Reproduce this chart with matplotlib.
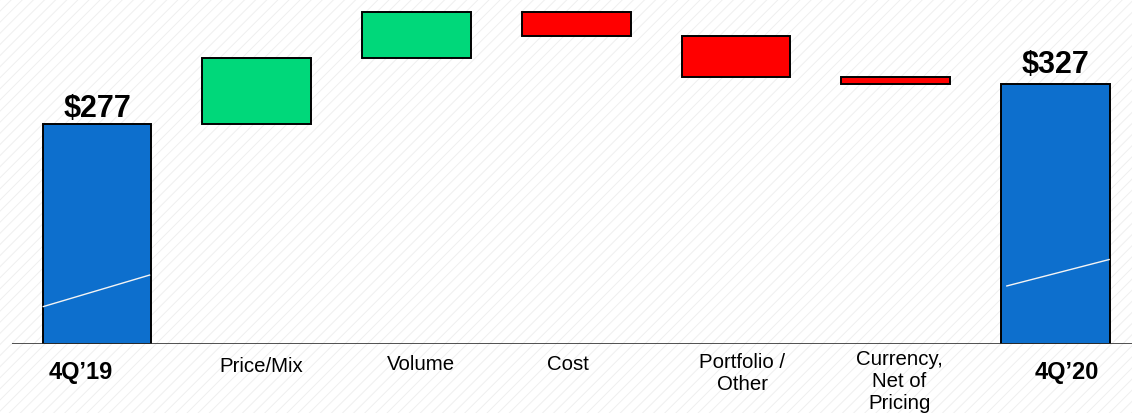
import matplotlib
matplotlib.use("Agg")
import matplotlib.pyplot as plt
from matplotlib.patches import Rectangle

plt.rcParams["font.family"] = ["Liberation Sans", "DejaVu Sans"]
plt.rcParams["hatch.linewidth"] = 0.7

# Bridge data ($M)
categories = ["4Q\u201919", "Price/Mix", "Volume", "Cost",
              "Portfolio /\nOther", "Currency,\nNet of\nPricing", "4Q\u201920"]
start_value = 277
deltas = [83, 57, -30, -52, -8]
end_value = 327
total_labels = ["$277", "$327"]

BLUE = "#0d6fcd"
GREEN = "#00d87a"
RED = "#ff0000"

# label placement (pixels): horizontal nudge, top depth below axis
label_dx = [-16, 5, 4.5, -8, 6.5, 3.5, 11.5]
label_dy = [17.5, 14, 11, 11.5, 9.5, 6.5, 17.5]
label_bold = [True, False, False, False, False, False, True]
value_gap = [6.5, 10.5]

fig = plt.figure(figsize=(11.32, 4.13), dpi=100)

# faint diagonal background texture
fig.add_artist(Rectangle((0, 0), 1, 1, transform=fig.transFigure,
                         facecolor="white", edgecolor="#efefef", lw=0,
                         hatch="///", zorder=-10))

ax = fig.add_axes([12 / 1132, 69.5 / 413, 1120 / 1132, 343.5 / 413])
ax.patch.set_visible(False)
for s in ax.spines.values():
    s.set_visible(False)
ax.set_xticks([])
ax.set_yticks([])

n = len(categories)
width = 0.68
ax.set_xlim(-0.532, n - 1 + 0.479)
ax.set_ylim(0, 432.6)

# running totals
bottoms, heights, colors = [0], [start_value], [BLUE]
level = start_value
for d in deltas:
    if d >= 0:
        bottoms.append(level)
        heights.append(d)
        colors.append(GREEN)
    else:
        bottoms.append(level + d)
        heights.append(-d)
        colors.append(RED)
    level += d
bottoms.append(0)
heights.append(end_value)
colors.append(BLUE)

xs = list(range(n))
ax.bar(xs, heights, bottom=bottoms, width=width, color=colors,
       edgecolor="black", linewidth=1.4, zorder=3)

# decorative white strokes across the total bars
strokes = {0: (0.0, 0.167, 0.99, 0.312), n - 1: (0.046, 0.221, 1.0, 0.324)}
for i, (fx0, fy0, fx1, fy1) in strokes.items():
    h = heights[i]
    x0 = xs[i] - width / 2
    ax.plot([x0 + fx0 * width, x0 + fx1 * width], [fy0 * h, fy1 * h],
            color="#f4f4f4", lw=1.0, zorder=4, solid_capstyle="butt")

ax.axhline(0, color="#333333", lw=1.2, zorder=5)

# total value labels
for k, (i, txt) in enumerate(zip([0, n - 1], total_labels)):
    ax.annotate(txt, xy=(xs[i], bottoms[i] + heights[i]),
                xytext=(0, value_gap[k]), textcoords="offset pixels",
                ha="center", va="baseline", fontsize=22, fontweight="bold",
                color="black", zorder=6)

# category labels
for i, cat in enumerate(categories):
    ax.annotate(cat, xy=(xs[i], 0), xytext=(label_dx[i], -label_dy[i]),
                textcoords="offset pixels", ha="center", va="top",
                fontsize=17 if label_bold[i] else 14.7,
                fontweight="bold" if label_bold[i] else "normal",
                linespacing=1.2,
                color="black", annotation_clip=False)

fig.savefig("out.png", dpi=100)
